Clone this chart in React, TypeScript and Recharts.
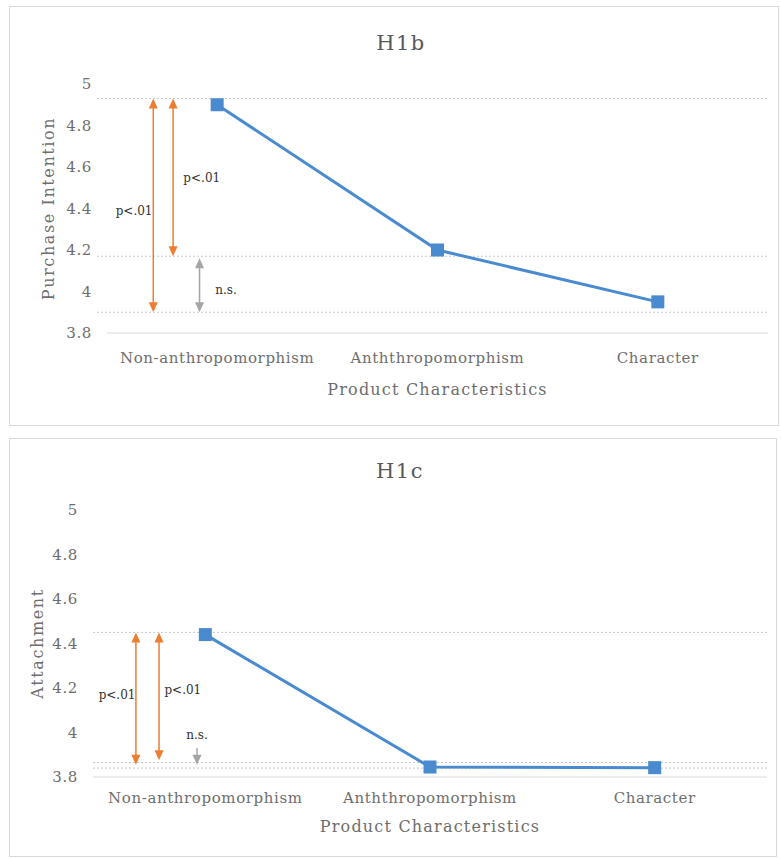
import React from "react";
import { LineChart, Line, XAxis, YAxis, ReferenceLine, ReferenceDot } from "recharts";

const categories = ["Non-anthropomorphism", "Anththropomorphism", "Character"];
const yTicks = [3.8, 4, 4.2, 4.4, 4.6, 4.8, 5];

// H1b: purchase intention per product type
const purchaseIntention = [4.9, 4.2, 3.95];
const h1bGuides = [4.93, 4.17, 3.9];
// [x in category units, from, to, kind]
const h1bArrows: [number, number, number, string][] = [
  [0.21, 4.93, 3.9, "sig"],
  [0.3, 4.93, 4.17, "sig"],
  [0.42, 4.16, 3.9, "ns"],
];
const h1bNotes: [number, number, string][] = [
  [0.123, 4.39, "p<.01"],
  [0.43, 4.545, "p<.01"],
  [0.54, 4.005, "n.s."],
];

// H1c: attachment per product type
const attachment = [4.44, 3.845, 3.842];
const h1cGuides = [4.45, 3.865, 3.84];
const h1cArrows: [number, number, number, string][] = [
  [0.191, 4.45, 3.855, "sig"],
  [0.294, 4.45, 3.875, "sig"],
  [0.463, 3.93, 3.855, "nsdown"],
];
const h1cNotes: [number, number, string][] = [
  [0.107, 4.17, "p<.01"],
  [0.4, 4.19, "p<.01"],
  [0.463, 3.99, "n.s."],
];

const FONT = "'DejaVu Serif', 'Liberation Serif', serif";
const TEXT = "#6e6e6e";
const BLUE = "#4a8bd0";
const ORANGE = "#ed7d31";
const GREY = "#a5a5a5";

function arrowShape(kind: string) {
  return (p: any) => {
    const x = p.x1;
    const top = Math.min(p.y1, p.y2);
    const bot = Math.max(p.y1, p.y2);
    const color = kind === "sig" ? ORANGE : GREY;
    const hw = 4.5;
    const hh = 10;
    const both = kind !== "nsdown";
    return (
      <g>
        <line x1={x} x2={x} y1={both ? top + hh - 1 : top} y2={bot - hh + 1} stroke={color} strokeWidth={1.5} />
        {both && <polygon points={`${x},${top} ${x - hw},${top + hh} ${x + hw},${top + hh}`} fill={color} />}
        <polygon points={`${x},${bot} ${x - hw},${bot - hh} ${x + hw},${bot - hh}`} fill={color} />
      </g>
    );
  };
}

const noteShape = (text: string) => (p: any) => (
  <text x={p.cx} y={p.cy} dy={4} textAnchor="middle" fontFamily={FONT} fontSize={12} fill="#333">
    {text}
  </text>
);

const squareDot = (p: any) => (
  <rect key={`d${p.index}`} x={p.cx - 6.5} y={p.cy - 6.5} width={13} height={13} fill={BLUE} />
);

type PanelProps = {
  title: string;
  yLabel: string;
  values: number[];
  guides: number[];
  guideStart: number;
  arrows: [number, number, number, string][];
  notes: [number, number, string][];
  left: number;
  top: number;
  width: number;
  height: number;
  yAxisWidth: number;
  margin: { top: number; right: number; left: number; bottom: number };
  xAxisHeight: number;
  tickGap: number;
  xLabelOffset: number;
  yLabelOffset: number;
  titleTop: number;
};

function Panel(props: PanelProps) {
  const data = props.values.map((v, i) => ({ x: i + 0.5, value: v }));
  const tickStyle = { fill: TEXT, fontSize: 15, fontFamily: FONT, letterSpacing: 0.6 };
  return (
    <div
      style={{
        position: "absolute",
        left: props.left,
        top: props.top,
        width: props.width,
        height: props.height,
        boxSizing: "border-box",
        border: "1px solid #d9d9d9",
        background: "#fff",
      }}
    >
      <div
        style={{
          position: "absolute",
          left: 0,
          right: 0,
          top: props.titleTop,
          textAlign: "center",
          paddingLeft: 14,
          fontFamily: FONT,
          fontSize: 21,
          color: "#595959",
          letterSpacing: 1.5,
        }}
      >
        {props.title}
      </div>
      <LineChart width={props.width - 2} height={props.height - 2} data={data} margin={props.margin}>
        <XAxis
          dataKey="x"
          type="number"
          domain={[0, 3]}
          ticks={[0.5, 1.5, 2.5]}
          interval={0}
          tickFormatter={(v: number) => categories[Math.floor(v)]}
          tick={tickStyle}
          tickLine={false}
          tickSize={0}
          tickMargin={props.tickGap}
          axisLine={{ stroke: "#d9d9d9" }}
          height={props.xAxisHeight}
          label={{
            value: "Product Characteristics",
            position: "insideBottom",
            offset: props.xLabelOffset,
            style: { fill: TEXT, fontSize: 16, fontFamily: FONT, letterSpacing: 1.2 },
          }}
        />
        <YAxis
          type="number"
          domain={[3.8, 5]}
          ticks={yTicks}
          tickFormatter={(v: number) => String(v)}
          tick={tickStyle}
          tickLine={false}
          tickSize={0}
          tickMargin={15}
          axisLine={false}
          width={props.yAxisWidth}
          label={{
            value: props.yLabel,
            angle: -90,
            position: "insideLeft",
            offset: props.yLabelOffset,
            style: { fill: TEXT, fontSize: 16, fontFamily: FONT, textAnchor: "middle", letterSpacing: 1.6 },
          }}
        />
        {props.guides.map((g, i) => (
          <ReferenceLine
            key={`g${i}`}
            segment={[
              { x: props.guideStart, y: g },
              { x: 3, y: g },
            ]}
            stroke="#c8c8c8"
            strokeDasharray="2 2"
            ifOverflow="visible"
          />
        ))}
        {props.arrows.map(([x, from, to, kind], i) => (
          <ReferenceLine
            key={`a${i}`}
            segment={[
              { x, y: from },
              { x, y: to },
            ]}
            ifOverflow="visible"
            shape={arrowShape(kind)}
          />
        ))}
        {props.notes.map(([x, y, text], i) => (
          <ReferenceDot key={`n${i}`} x={x} y={y} r={0} ifOverflow="visible" shape={noteShape(text)} />
        ))}
        <Line
          type="linear"
          dataKey="value"
          stroke={BLUE}
          strokeWidth={3}
          dot={squareDot}
          activeDot={false}
          isAnimationActive={false}
        />
      </LineChart>
    </div>
  );
}

export default function App() {
  return (
    <div style={{ position: "absolute", left: 0, top: 0, width: 781, height: 859, background: "#fff" }}>
      <Panel
        title="H1b"
        yLabel="Purchase Intention"
        values={purchaseIntention}
        guides={h1bGuides}
        guideStart={-0.045}
        arrows={h1bArrows}
        notes={h1bNotes}
        left={9}
        top={6}
        width={770}
        height={420}
        yAxisWidth={97}
        margin={{ top: 77, right: 10, left: 0, bottom: 0 }}
        xAxisHeight={92}
        tickGap={19}
        xLabelOffset={30}
        yLabelOffset={38}
        titleTop={24}
      />
      <Panel
        title="H1c"
        yLabel="Attachment"
        values={attachment}
        guides={h1cGuides}
        guideStart={0}
        arrows={h1cArrows}
        notes={h1cNotes}
        left={9}
        top={438}
        width={768}
        height={419}
        yAxisWidth={83}
        margin={{ top: 71, right: 9, left: 0, bottom: 0 }}
        xAxisHeight={79}
        tickGap={15}
        xLabelOffset={24}
        yLabelOffset={27}
        titleTop={20}
      />
    </div>
  );
}
